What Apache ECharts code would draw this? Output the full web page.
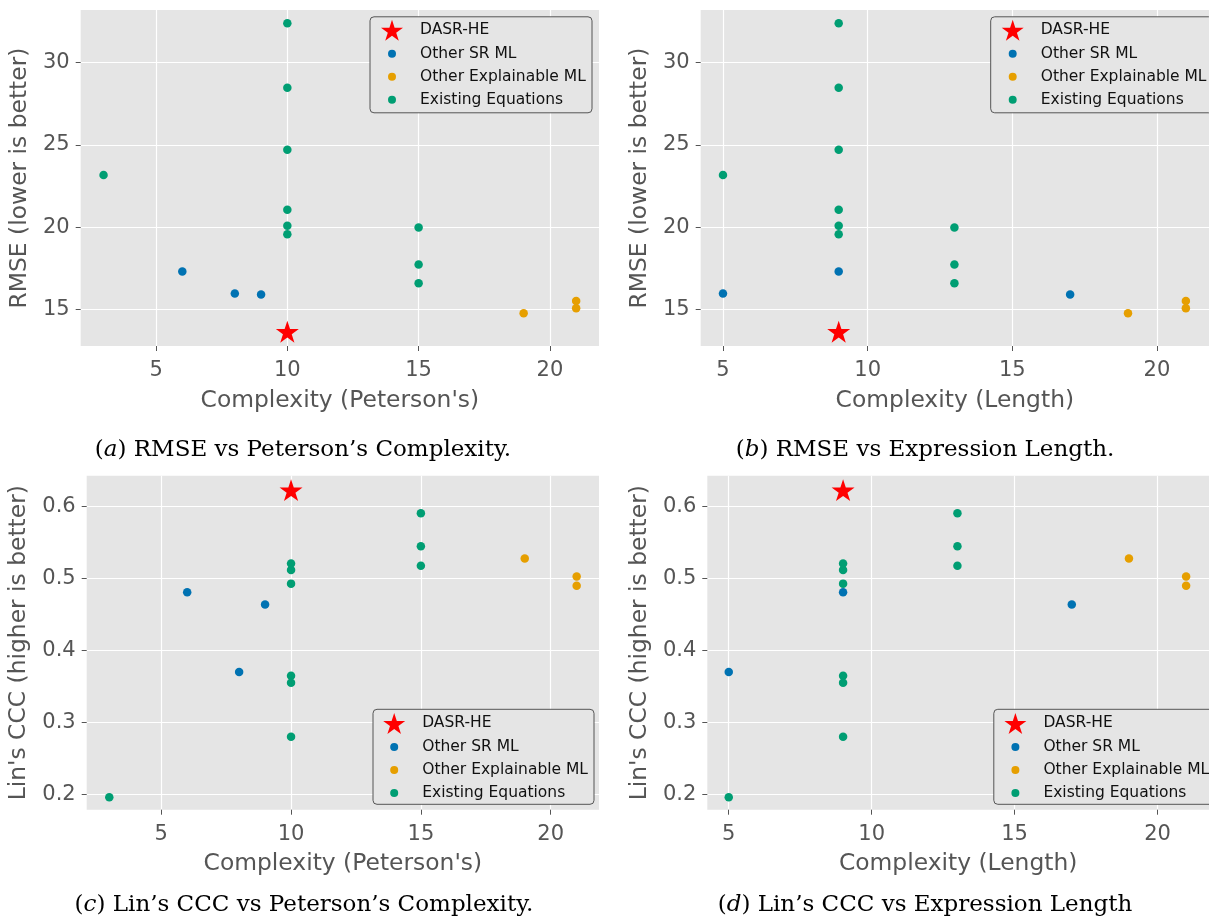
<!DOCTYPE html>
<html>
  <head>
    <meta charset="utf-8" />
    <title>DASR-HE: error / agreement vs complexity</title>
    <script src="https://cdn.jsdelivr.net/npm/echarts@6/dist/echarts.min.js"></script>
    <style>
      html,
      body {
        margin: 0;
        padding: 0;
        background: #fff;
      }
      #main {
        width: 1209px;
        height: 920px;
      }
    </style>
  </head>
  <body>
    <div id="main"></div>
    <script>
      // legend order
      var groups = ['DASR-HE', 'Other SR ML', 'Other Explainable ML', 'Existing Equations']
      var colors = ['#FF0000', '#0072B2', '#E69F00', '#009E73']

      // DASR-HE
      var dasrPeterson = [10]
      var dasrLength = [9]
      var dasrRmse = [13.64]
      var dasrCcc = [0.623]

      // other symbolic regression models
      var srPeterson = [6, 8, 9]
      var srLength = [9, 5, 17]
      var srRmse = [17.3, 15.96, 15.9]
      var srCcc = [0.481, 0.37, 0.464]

      // other explainable ML
      var xmlPeterson = [19, 21, 21]
      var xmlLength = [19, 21, 21]
      var xmlRmse = [14.76, 15.51, 15.06]
      var xmlCcc = [0.528, 0.503, 0.49]

      // existing equations (rmse and ccc lists are read per panel, top to bottom)
      var eqPeterson = [3, 10, 10, 10, 10, 10, 10, 15, 15, 15]
      var eqLength = [5, 9, 9, 9, 9, 9, 9, 13, 13, 13]
      var eqRmse = [23.17, 32.4, 28.47, 24.7, 21.05, 20.08, 19.57, 19.97, 17.73, 16.59]
      var eqCcc = [0.196, 0.521, 0.512, 0.493, 0.365, 0.355, 0.28, 0.591, 0.545, 0.518]

      // tick labels
      var xTicks = [5, 10, 15, 20]
      var rmseTicks = [15, 20, 25, 30]
      var cccTicks = [0.2, 0.3, 0.4, 0.5, 0.6]

      var captions = [
        ['a', 'RMSE vs Peterson\u2019s Complexity.'],
        ['b', 'RMSE vs Expression Length.'],
        ['c', 'Lin\u2019s CCC vs Peterson\u2019s Complexity.'],
        ['d', 'Lin\u2019s CCC vs Expression Length']
      ]

      var panels = [
        {
          grid: { left: 80.7, top: 10, width: 518.3, height: 336 },
          xs: [dasrPeterson, srPeterson, xmlPeterson, eqPeterson],
          ys: [dasrRmse, srRmse, xmlRmse, eqRmse],
          xName: "Complexity (Peterson's)", yName: 'RMSE (lower is better)',
          xMin: 2.13, xMax: 21.87, yMin: 12.77, yMax: 33.2, yStep: 5, yTicks: rmseTicks, yGap: 49,
          legend: { x: 392, y: 30.8, box: [370, 16.8, 222, 96] },
          caption: { x: 303, y: 450 }
        },
        {
          grid: { left: 700.7, top: 10, width: 520, height: 336 },
          xs: [dasrLength, srLength, xmlLength, eqLength],
          ys: [dasrRmse, srRmse, xmlRmse, eqRmse],
          xName: 'Complexity (Length)', yName: 'RMSE (lower is better)',
          xMin: 4.23, xMax: 21.8, yMin: 12.77, yMax: 33.2, yStep: 5, yTicks: rmseTicks, yGap: 49,
          legend: { x: 1012.7, y: 30.8, box: [990.7, 16.8, 222, 96] },
          caption: { x: 925, y: 450 }
        },
        {
          grid: { left: 86.7, top: 475.7, width: 512.3, height: 334 },
          xs: [dasrPeterson, srPeterson, xmlPeterson, eqPeterson],
          ys: [dasrCcc, srCcc, xmlCcc, eqCcc],
          xName: "Complexity (Peterson's)", yName: "Lin's CCC (higher is better)",
          xMin: 2.13, xMax: 21.86, yMin: 0.1786, yMax: 0.6431, yStep: 0.1, yTicks: cccTicks, yGap: 56,
          legend: { x: 394.2, y: 724, box: [373, 709.3, 221, 95] },
          caption: { x: 304, y: 905 }
        },
        {
          grid: { left: 707.3, top: 475.7, width: 514.5, height: 334 },
          xs: [dasrLength, srLength, xmlLength, eqLength],
          ys: [dasrCcc, srCcc, xmlCcc, eqCcc],
          xName: 'Complexity (Length)', yName: "Lin's CCC (higher is better)",
          xMin: 4.25, xMax: 21.8, yMin: 0.1786, yMax: 0.6431, yStep: 0.1, yTicks: cccTicks, yGap: 56,
          legend: { x: 1015.4, y: 724, box: [993.8, 709.3, 221, 95] },
          caption: { x: 925, y: 905 }
        }
      ]

      function zip(xs, ys) {
        var out = []
        for (var i = 0; i < xs.length; i++) out.push([xs[i], ys[i]])
        return out
      }

      // echarts has no star symbol, build a 5-point one (inner radius like matplotlib's '*')
      function starPath() {
        var pts = []
        for (var k = 0; k < 10; k++) {
          var r = k % 2 === 0 ? 1 : 0.382
          var a = (-90 + k * 36) * Math.PI / 180
          pts.push((r * Math.cos(a)).toFixed(4) + ' ' + (r * Math.sin(a)).toFixed(4))
        }
        return 'path://M' + pts.join(' L') + ' Z'
      }
      var STAR = starPath()

      var font = 'DejaVu Sans'
      var grids = [], xAxes = [], yAxes = [], series = [], legends = [], graphics = []

      panels.forEach(function (p, k) {
        grids.push(Object.assign({ show: true, backgroundColor: '#E5E5E5', borderWidth: 0 }, p.grid))

        xAxes.push({
          type: 'value', gridIndex: k, min: p.xMin, max: p.xMax,
          minInterval: 5, maxInterval: 5,
          name: p.xName, nameLocation: 'middle', nameGap: 43,
          nameTextStyle: { color: '#555', fontSize: 23.4, fontFamily: font },
          axisLine: { show: false },
          axisTick: { show: true, length: 5, lineStyle: { color: '#555' }, customValues: xTicks },
          axisLabel: { color: '#555', fontSize: 21, fontFamily: font, margin: 14, customValues: xTicks },
          splitLine: { show: true, lineStyle: { color: '#fff', width: 1.2 } }
        })

        yAxes.push({
          type: 'value', gridIndex: k, min: p.yMin, max: p.yMax,
          minInterval: p.yStep, maxInterval: p.yStep,
          name: p.yName, nameLocation: 'middle', nameGap: p.yGap,
          nameTextStyle: { color: '#555', fontSize: 23.4, fontFamily: font },
          axisLine: { show: false },
          axisTick: { show: true, length: 5, lineStyle: { color: '#555' }, customValues: p.yTicks },
          axisLabel: { color: '#555', fontSize: 21, fontFamily: font, margin: 11, customValues: p.yTicks },
          splitLine: { show: true, lineStyle: { color: '#fff', width: 1.2 } }
        })

        groups.forEach(function (g, j) {
          series.push({
            name: g, type: 'scatter', xAxisIndex: k, yAxisIndex: k,
            symbol: j === 0 ? STAR : 'circle',
            symbolSize: j === 0 ? 23 : 8.5,
            symbolKeepAspect: true,
            itemStyle: { color: colors[j], opacity: 1 },
            data: zip(p.xs[j], p.ys[j])
          })
        })

        // legend: one entry per row so star and dots can have their own sizes
        groups.forEach(function (g, j) {
          var s = j === 0 ? 22 : 8
          var rowH = j === 0 ? 22 : 18
          legends.push({
            data: [g], orient: 'vertical', padding: 0, z: 6,
            left: p.legend.x - s / 2, top: p.legend.y + j * 23 - rowH / 2,
            itemWidth: s, itemHeight: s, icon: j === 0 ? STAR : 'circle',
            selectedMode: false,
            textStyle: {
              color: '#111', fontSize: 15.5, fontFamily: font, lineHeight: 18,
              padding: [0, 0, 0, 28 - s / 2 - 5]
            }
          })
        })

        graphics.push({
          type: 'rect', z: 5,
          shape: { x: p.legend.box[0], y: p.legend.box[1], width: p.legend.box[2], height: p.legend.box[3], r: 4 },
          style: { fill: '#E5E5E5', stroke: '#555', lineWidth: 1 }
        })

        graphics.push({
          type: 'text', z: 5, x: p.caption.x, y: p.caption.y,
          style: {
            text: '({i|' + captions[k][0] + '}) ' + captions[k][1],
            align: 'center', verticalAlign: 'middle',
            fontFamily: 'DejaVu Serif', fontSize: 23, fill: '#000',
            rich: { i: { fontFamily: 'DejaVu Serif', fontStyle: 'italic', fontSize: 23, fill: '#000' } }
          }
        })
      })

      var myChart = echarts.init(document.getElementById('main'))
      myChart.setOption({
        animation: false,
        backgroundColor: '#fff',
        grid: grids,
        xAxis: xAxes,
        yAxis: yAxes,
        legend: legends,
        graphic: graphics,
        series: series
      })
    </script>
  </body>
</html>
